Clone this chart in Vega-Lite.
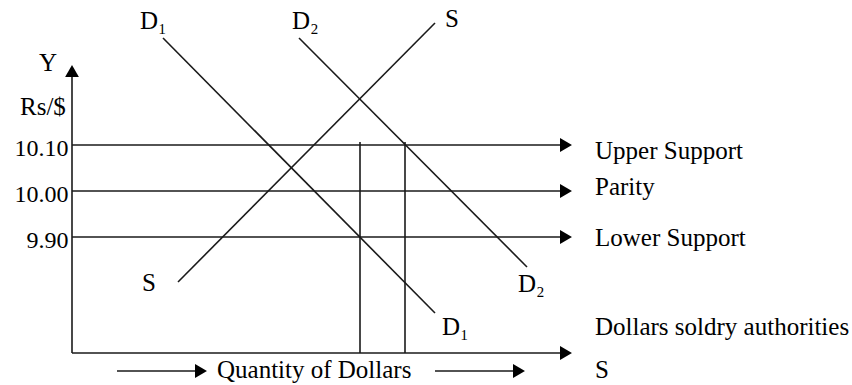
{
  "$schema": "https://vega.github.io/schema/vega-lite/v6.json",
  "autosize": "none",
  "padding": {"left": 72, "top": 0, "right": 0, "bottom": 0},
  "width": 780,
  "height": 385,
  "background": "white",
  "config": {"view": {"stroke": null}},
  "datasets": {
    "segs": [
      {"seg": "Y axis", "q1": 0, "v1": 9.647826, "q2": 0, "v2": 10.26087},
      {"seg": "X axis", "q1": 0, "v1": 9.647826, "q2": 494, "v2": 9.647826},
      {"seg": "Upper Support", "q1": 0, "v1": 10.1, "q2": 494, "v2": 10.1},
      {"seg": "Parity", "q1": 0, "v1": 10.0, "q2": 494, "v2": 10.0},
      {"seg": "Lower Support", "q1": 0, "v1": 9.9, "q2": 494, "v2": 9.9},
      {"seg": "D1", "q1": 91, "v1": 10.332609, "q2": 363, "v2": 9.734783},
      {"seg": "D2", "q1": 227, "v1": 10.332609, "q2": 455, "v2": 9.834783},
      {"seg": "S", "q1": 106, "v1": 9.802174, "q2": 363, "v2": 10.365217},
      {"seg": "Q at 9.90", "q1": 288, "v1": 10.106522, "q2": 288, "v2": 9.647826},
      {"seg": "Q at 10.10", "q1": 333, "v1": 10.106522, "q2": 333, "v2": 9.647826},
      {"seg": "Quantity arrow left", "q1": 45, "v1": 9.608696, "q2": 129, "v2": 9.608696},
      {"seg": "Quantity arrow right", "q1": 363, "v1": 9.608696, "q2": 447, "v2": 9.608696}
    ],
    "arrows": [
      {"q": 0, "v": 10.26087, "dir": "up"},
      {"q": 494, "v": 10.1, "dir": "right"},
      {"q": 494, "v": 10.0, "dir": "right"},
      {"q": 494, "v": 9.9, "dir": "right"},
      {"q": 494, "v": 9.647826, "dir": "right"},
      {"q": 129, "v": 9.608696, "dir": "right"},
      {"q": 447, "v": 9.608696, "dir": "right"}
    ],
    "labels": [
      {"text": "D₁", "q": 68, "v": 10.352174},
      {"text": "D₂", "q": 220, "v": 10.352174},
      {"text": "S", "q": 373, "v": 10.356522},
      {"text": "Y", "q": -33, "v": 10.26087},
      {"text": "Rs/$", "q": -52, "v": 10.165217},
      {"text": "Upper Support", "q": 523, "v": 10.069565},
      {"text": "Parity", "q": 523, "v": 9.991304},
      {"text": "Lower Support", "q": 523, "v": 9.880435},
      {"text": "S", "q": 70, "v": 9.782609},
      {"text": "D₂", "q": 446, "v": 9.780435},
      {"text": "D₁", "q": 370, "v": 9.686957},
      {"text": "Dollars soldry authorities", "q": 523, "v": 9.686957},
      {"text": "Quantity of Dollars", "q": 145, "v": 9.593478},
      {"text": "S", "q": 523, "v": 9.593478}
    ]
  },
  "layer": [
    {
      "data": {"name": "segs"},
      "mark": {"type": "rule", "stroke": "#1a1a1a", "strokeWidth": 1.6},
      "encoding": {
        "x": {"field": "q1", "type": "quantitative", "scale": {"domain": [0, 780], "nice": false, "zero": false}, "axis": null},
        "x2": {"field": "q2"},
        "y": {"field": "v1", "type": "quantitative", "scale": {"domain": [9.578261, 10.415217], "nice": false, "zero": false},
          "axis": {"values": [9.9, 10.0, 10.1], "format": ".2f", "title": null, "domain": false, "ticks": false, "tickSize": 0, "grid": false,
            "labelFont": "Liberation Serif", "labelFontSize": 24, "labelColor": "black", "labelPadding": 4, "labelOffset": 4}},
        "y2": {"field": "v2"}
      }
    },
    {
      "data": {"name": "arrows"},
      "mark": {"type": "point", "filled": true, "color": "black", "size": 190, "opacity": 1},
      "encoding": {
        "x": {"field": "q", "type": "quantitative", "scale": {"domain": [0, 780], "nice": false, "zero": false}},
        "y": {"field": "v", "type": "quantitative", "scale": {"domain": [9.578261, 10.415217], "nice": false, "zero": false}},
        "shape": {"field": "dir", "type": "nominal", "scale": {"domain": ["up", "right"], "range": ["triangle-up", "triangle-right"]}, "legend": null}
      }
    },
    {
      "data": {"name": "labels"},
      "mark": {"type": "text", "align": "left", "baseline": "alphabetic", "font": "Liberation Serif", "fontSize": 25, "color": "black"},
      "encoding": {
        "x": {"field": "q", "type": "quantitative", "scale": {"domain": [0, 780], "nice": false, "zero": false}},
        "y": {"field": "v", "type": "quantitative", "scale": {"domain": [9.578261, 10.415217], "nice": false, "zero": false}},
        "text": {"field": "text"}
      }
    }
  ]
}
